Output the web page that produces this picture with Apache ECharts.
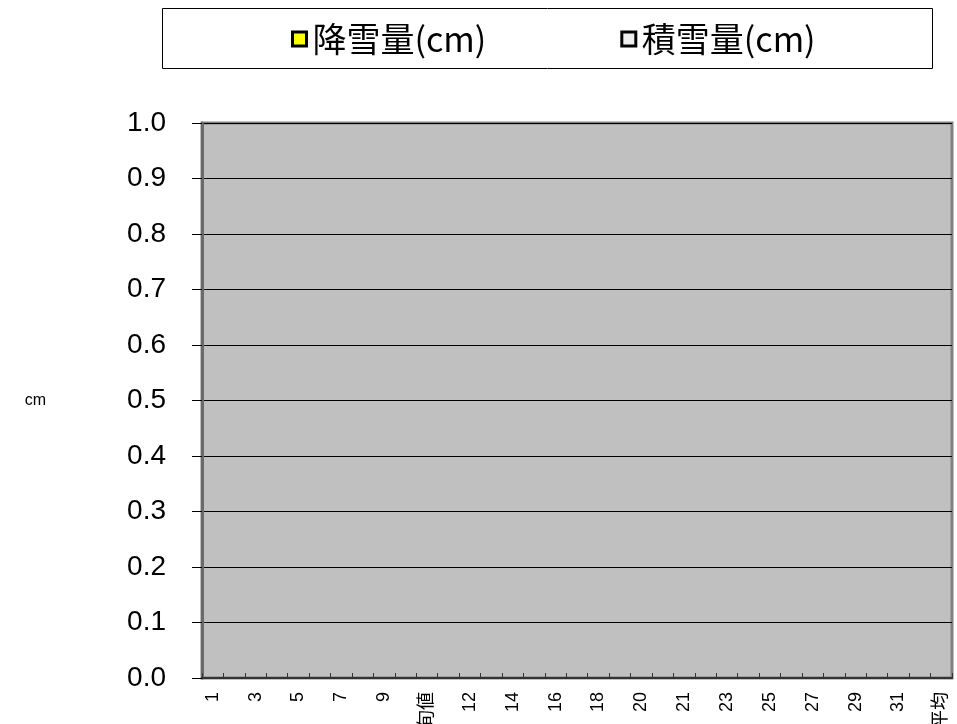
<!DOCTYPE html>
<html>
<head>
<meta charset="utf-8">
<script src="https://cdn.jsdelivr.net/npm/echarts@6/dist/echarts.min.js"></script>
<style>
html,body{margin:0;padding:0;background:#fff;}
#chart{width:957px;height:724px;}
</style>
</head>
<body>
<div id="chart"></div>
<script>
// Categories: days 1-10, 上旬値, 11-20, 中旬値, 21-31, 下旬値, 月平均
var categories = ['1','2','3','4','5','6','7','8','9','10','上旬値',
  '11','12','13','14','15','16','17','18','19','20','中旬値',
  '21','22','23','24','25','26','27','28','29','30','31','下旬値','月平均'];
// No values are drawn in the reference (empty chart)
var snowfall = categories.map(function(){ return null; });   // 降雪量(cm)
var snowDepth = categories.map(function(){ return null; });  // 積雪量(cm)
var seriesNames = ['降雪量(cm)', '積雪量(cm)'];
var yTicks = {min: 0, max: 1.0, interval: 0.1};

var chart = echarts.init(document.getElementById('chart'));
chart.setOption({
  animation: false,
  graphic: [{
    type: 'rect',
    z: 0,
    shape: {x: 162.5, y: 8.5, width: 770, height: 60},
    style: {fill: '#fff', stroke: '#000', lineWidth: 1}
  }],
  legend: {
    z: 10,
    left: 291,
    top: 22,
    padding: 0,
    itemGap: 134,
    itemWidth: 14,
    itemHeight: 14,
    icon: 'rect',
    itemStyle: {borderColor: '#000', borderWidth: 3},
    textStyle: {fontSize: 34, fontFamily: '"Noto Sans CJK JP"', color: '#000', padding: [0,0,0,1]},
    data: seriesNames
  },
  grid: {
    left: 202, top: 123, right: 5, bottom: 46,
    outerBoundsMode: 'none',
    containLabel: false,
    show: true,
    backgroundColor: '#C0C0C0',
    borderColor: '#808080',
    borderWidth: 3
  },
  xAxis: {
    type: 'category',
    data: categories,
    boundaryGap: true,
    axisLine: {show: true, lineStyle: {color: '#333', width: 2}},
    axisTick: {show: true, inside: true, length: 5, interval: 0, lineStyle: {color: '#333'}},
    axisLabel: {interval: 1, rotate: 90, margin: 14, fontSize: 18,
      fontFamily: '"Liberation Sans", Arial, "Noto Sans CJK JP"', color: '#000'},
    splitLine: {show: false}
  },
  yAxis: {
    type: 'value',
    min: yTicks.min, max: yTicks.max, interval: yTicks.interval,
    name: 'cm',
    nameLocation: 'middle',
    nameRotate: 0,
    nameGap: 156,
    nameTextStyle: {fontSize: 16, fontFamily: '"Liberation Sans", Arial', color: '#000'},
    axisLine: {show: true, lineStyle: {color: '#6a6a6a', width: 3}},
    axisTick: {show: true, length: 10, lineStyle: {color: '#000'}},
    axisLabel: {margin: 36, fontSize: 28, fontFamily: '"Liberation Sans", Arial', color: '#000',
      formatter: function(v){ return v.toFixed(1); }},
    splitLine: {show: true, lineStyle: {color: '#000', width: 1}}
  },
  series: [
    {name: seriesNames[0], type: 'bar', data: snowfall,
     itemStyle: {color: '#FFFF00', borderColor: '#000', borderWidth: 2}},
    {name: seriesNames[1], type: 'bar', data: snowDepth,
     itemStyle: {color: '#EEEEEE', borderColor: '#000', borderWidth: 2}}
  ]
});
</script>
</body>
</html>
